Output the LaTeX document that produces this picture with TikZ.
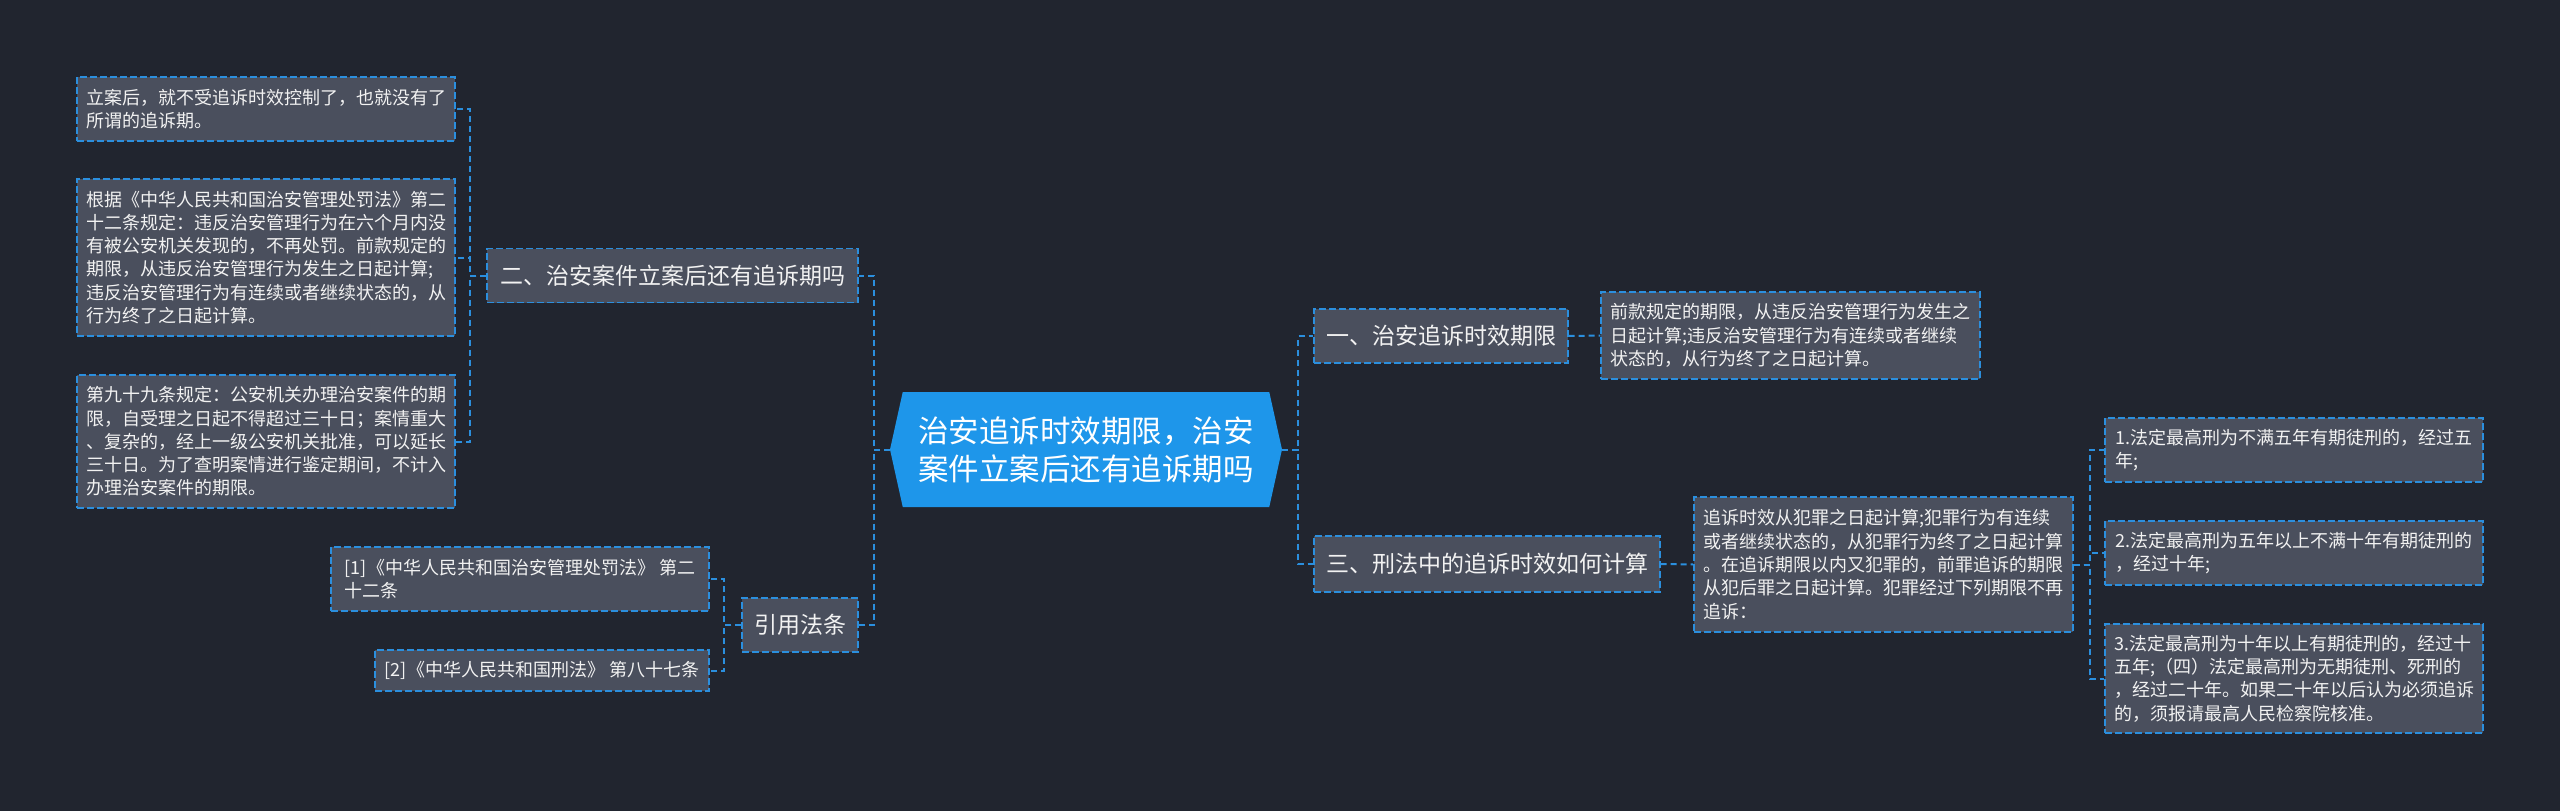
\documentclass[tikz,border=0pt]{standalone}
\usepackage{fontspec}
\setmainfont{Noto Sans CJK SC}
\usetikzlibrary{shapes.symbols}
\definecolor{bgdark}{RGB}{33,37,47}
\definecolor{boxgray}{RGB}{74,79,93}
\definecolor{linkblue}{RGB}{43,143,222}
\definecolor{rootblue}{RGB}{30,150,234}
\definecolor{textwhite}{RGB}{242,242,242}

\begin{document}
\begin{tikzpicture}[x=1pt, y=-1pt,
  leaf/.style={draw=linkblue, fill=boxgray, line width=1.4pt, dash pattern=on 7pt off 3pt, text=textwhite, align=left, inner sep=0pt, font=\fontsize{18}{23.3}\selectfont},
  topic/.style={draw=linkblue, fill=boxgray, line width=1.4pt, dash pattern=on 7pt off 3pt, text=textwhite, inner sep=0pt, minimum height=54pt, font=\fontsize{23}{28}\selectfont},
  hub/.style={signal, signal to=west and east, signal pointer angle=155, fill=rootblue, text=white, align=center, inner sep=0pt, minimum width=392pt, minimum height=115pt, font=\fontsize{30.5}{38}\selectfont},
  link/.style={linkblue, line width=2pt, dash pattern=on 6pt off 4pt}]
\fill[bgdark] (0,0) rectangle (2560,811);

% centre
\node[hub] (root) at (1086,449.5) {治安追诉时效期限，治安\\案件立案后还有追诉期吗};

% left branches
\node[topic, minimum width=371pt] (two) at (672.5,275.5) {二、治安案件立案后还有追诉期吗};
\node[topic, minimum width=116pt] (cite) at (800,625) {引用法条};

\node[leaf, minimum width=378pt, minimum height=64pt] (l1) at (266,109) {立案后，就不受追诉时效控制了，也就没有了\\所谓的追诉期。};
\node[leaf, minimum width=378pt, minimum height=157pt] (l2) at (266,257.5) {根据《中华人民共和国治安管理处罚法》第二\\十二条规定：违反治安管理行为在六个月内没\\有被公安机关发现的，不再处罚。前款规定的\\期限，从违反治安管理行为发生之日起计算;\\违反治安管理行为有连续或者继续状态的，从\\行为终了之日起计算。};
\node[leaf, minimum width=378pt, minimum height=133pt] (l3) at (266,441.5) {第九十九条规定：公安机关办理治安案件的期\\限，自受理之日起不得超过三十日；案情重大\\、复杂的，经上一级公安机关批准，可以延长\\三十日。为了查明案情进行鉴定期间，不计入\\办理治安案件的期限。};

\node[leaf, minimum width=378pt, minimum height=64pt] (c1) at (520,579) {[1]《中华人民共和国治安管理处罚法》 第二\\十二条};
\node[leaf, minimum width=334pt, minimum height=41pt] (c2) at (542,670.5) {[2]《中华人民共和国刑法》 第八十七条};

% right branches
\node[topic, minimum width=254pt] (one) at (1441,336) {一、治安追诉时效期限};
\node[topic, minimum width=346pt, minimum height=56pt] (three) at (1487,564) {三、刑法中的追诉时效如何计算};

\node[leaf, minimum width=379pt, minimum height=87pt] (r1) at (1790.5,335.5) {前款规定的期限，从违反治安管理行为发生之\\日起计算;违反治安管理行为有连续或者继续\\状态的，从行为终了之日起计算。};
\node[leaf, minimum width=379pt, minimum height=135pt] (r3) at (1883.5,564.5) {追诉时效从犯罪之日起计算;犯罪行为有连续\\或者继续状态的，从犯罪行为终了之日起计算\\。在追诉期限以内又犯罪的，前罪追诉的期限\\从犯后罪之日起计算。犯罪经过下列期限不再\\追诉：};

\node[leaf, minimum width=378pt, minimum height=64pt] (p1) at (2294,450) {1.法定最高刑为不满五年有期徒刑的，经过五\\年;};
\node[leaf, minimum width=378pt, minimum height=64pt] (p2) at (2294,553) {2.法定最高刑为五年以上不满十年有期徒刑的\\，经过十年;};
\node[leaf, minimum width=378pt, minimum height=109pt] (p3) at (2294,678.5) {3.法定最高刑为十年以上有期徒刑的，经过十\\五年;（四）法定最高刑为无期徒刑、死刑的\\，经过二十年。如果二十年以后认为必须追诉\\的，须报请最高人民检察院核准。};

% connectors
\draw[link] (root.west) -- ++(-16,0) |- (two.east);
\draw[link] (root.west) -- ++(-16,0) |- (cite.east);
\draw[link] (root.east) -- ++(16,0) |- (one.west);
\draw[link] (root.east) -- ++(16,0) |- (three.west);
\draw[link] (two.west) -- ++(-16,0) |- (l1.east);
\draw[link] (two.west) -- ++(-16,0) |- (l2.east);
\draw[link] (two.west) -- ++(-16,0) |- (l3.east);
\draw[link] (cite.west) -- ++(-17,0) |- (c1.east);
\draw[link] (cite.west) -- ++(-17,0) |- (c2.east);
\draw[link] (one.east) -- (r1.west);
\draw[link] (three.east) -- (r3.west);
\draw[link] (r3.east) -- ++(16,0) |- (p1.west);
\draw[link] (r3.east) -- ++(16,0) |- (p2.west);
\draw[link] (r3.east) -- ++(16,0) |- (p3.west);
\end{tikzpicture}
\end{document}
